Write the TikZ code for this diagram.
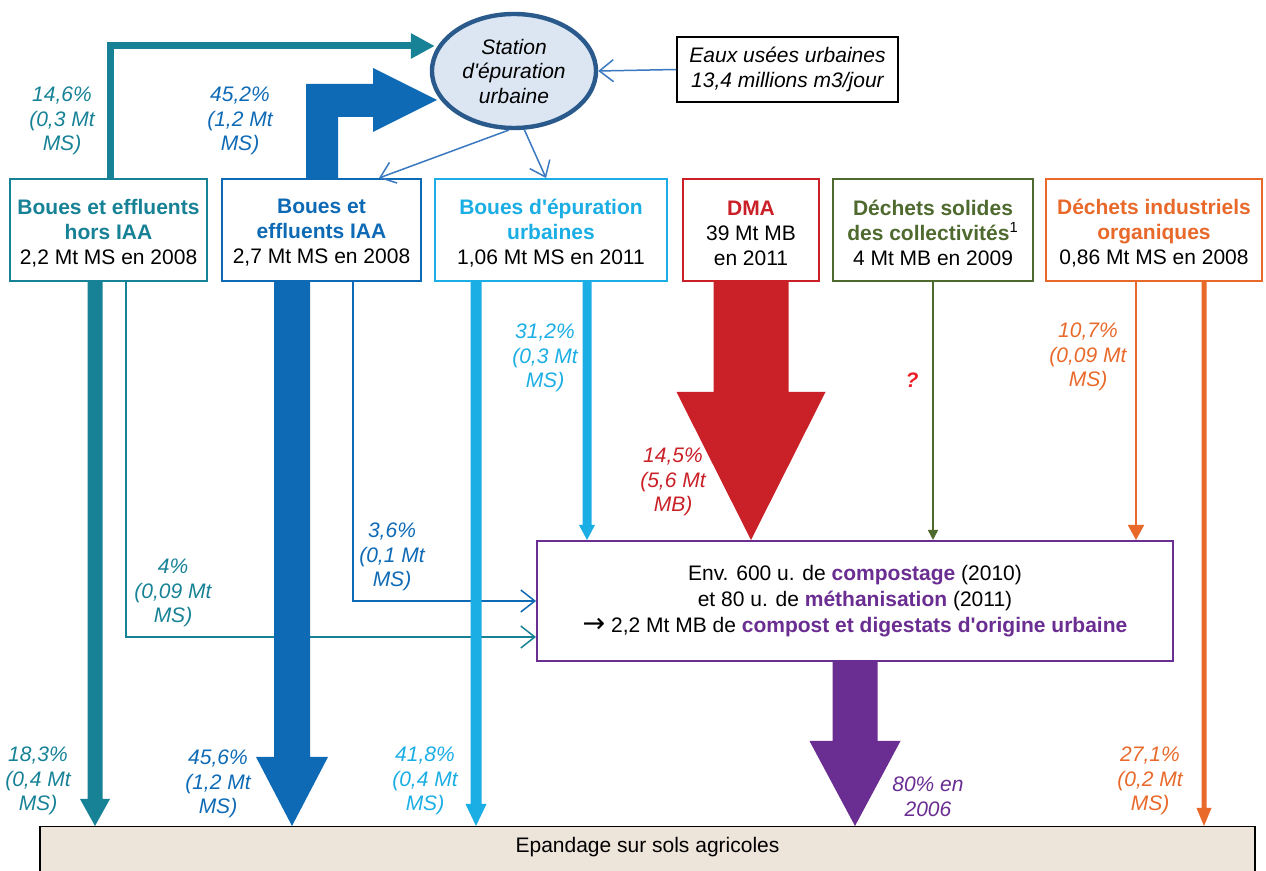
\documentclass[tikz,border=0pt]{standalone}
\usepackage{fontspec}
\setmainfont{Liberation Sans}
\newfontfamily\arrowfont{DejaVu Sans}
\usetikzlibrary{arrows.meta,shapes.geometric,calc}

\definecolor{cTeal}{HTML}{178296}
\definecolor{cBlue}{HTML}{0E6AB5}
\definecolor{cSky}{HTML}{1BAEE4}
\definecolor{cRed}{HTML}{CA2028}
\definecolor{cGreen}{HTML}{4F6A2F}
\definecolor{cOrange}{HTML}{E8692A}
\definecolor{cPurple}{HTML}{6A2D91}
\definecolor{cLink}{HTML}{3A78C0}
\definecolor{cRing}{HTML}{2A5A8C}
\definecolor{cRingFill}{HTML}{DCE6F2}
\definecolor{cSoil}{HTML}{EDE4DA}
\definecolor{cQuery}{HTML}{EC1C24}

% downward block arrow: colour, axis x, bar half width, head half width,
% head length, start node anchor, tip node anchor
\newcommand\blockdown[7]{%
  \fill[#1] (#2-#3,0 |- #6) -- ($(#2-#3,0 |- #7)+(0,-#5)$)
    -- ($(#2-#4,0 |- #7)+(0,-#5)$) -- (#2,0 |- #7)
    -- ($(#2+#4,0 |- #7)+(0,-#5)$) -- ($(#2+#3,0 |- #7)+(0,-#5)$)
    -- (#2+#3,0 |- #6) -- cycle;}

\tikzset{
  every node/.style={font=\fontsize{10.5}{12.5}\selectfont},
  src/.style={draw=#1, line width=1pt, fill=white, align=center,
    inner sep=0pt, minimum height=51pt},
  srctext/.style={align=center, inner sep=0pt},
  pct/.style={text=#1, align=center, inner sep=0pt,
    font=\fontsize{10.5}{12.25}\selectfont\itshape},
  barb/.style={-{Straight Barb[length=7pt,width=11pt]}, line width=0.75pt},
}

\begin{document}
\begin{tikzpicture}[x=0.5pt,y=-0.5pt,line join=miter]
\useasboundingbox (0,0) rectangle (1266,871);
\clip (0,0) rectangle (1266,871);

% sources (frames, then their texts)
\node[src=cTeal, minimum width=98.5pt] (b1) at (108.5,230) {};
\node[src=cBlue, minimum width=99.5pt] (b2) at (321.5,230) {};
\node[src=cSky, minimum width=116pt] (b3) at (551,230) {};
\node[src=cRed, minimum width=68pt] (b4) at (751,230) {};
\node[src=cGreen, minimum width=100pt] (b5) at (933,230) {};
\node[src=cOrange, minimum width=108pt] (b6) at (1154,230) {};

\node[srctext] (t1) at (108.5,233)
  {\textcolor{cTeal}{\bfseries Boues et effluents}\\
   \textcolor{cTeal}{\bfseries hors IAA}\\2,2 Mt MS en 2008};
\node[srctext] (t2) at (321.5,233)
  {\textcolor{cBlue}{\bfseries Boues et}\\
   \textcolor{cBlue}{\bfseries effluents IAA}\\2,7 Mt MS en 2008};
\node[srctext] (t3) at (551,233)
  {\textcolor{cSky}{\bfseries Boues d\textquotesingle épuration}\\
   \textcolor{cSky}{\bfseries urbaines}\\1,06 Mt MS en 2011};
\node[srctext] (t4) at (751,233)
  {\textcolor{cRed}{\bfseries DMA}\\39 Mt MB\\en 2011};
\node[srctext] (t5) at (933,233)
  {\textcolor{cGreen}{\bfseries Déchets solides}\\
   \textcolor{cGreen}{\bfseries des collectivités}\textsuperscript{1}\\4 Mt MB en 2009};
\node[srctext] (t6) at (1154,233)
  {\textcolor{cOrange}{\bfseries Déchets industriels}\\
   \textcolor{cOrange}{\bfseries organiques}\\0,86 Mt MS en 2008};

% treatment plant and inflow
\node[ellipse, draw=cRing, line width=2.2pt, fill=cRingFill, minimum width=82pt,
  minimum height=57pt, inner sep=0pt, align=center,
  font=\fontsize{10.5}{12.25}\selectfont\itshape] (el) at (514,71)
  {Station\\d\textquotesingle épuration\\urbaine};
\node[draw, line width=0.75pt, minimum width=110.5pt, minimum height=32.5pt,
  inner sep=0pt, align=center, font=\fontsize{10.5}{12.5}\selectfont\itshape]
  (eaux) at (787.5,69.5) {Eaux usées urbaines\\13,4 millions m3/jour};

% composting / methanisation units
\node[draw=cPurple, line width=1pt, fill=white, minimum width=318pt,
  minimum height=60pt, inner sep=0pt, align=center,
  font=\fontsize{10.5}{13}\selectfont] (pb) at (855,601)
  {Env. 600 u. de \textcolor{cPurple}{\bfseries compostage} (2010)\\
   et 80 u. de \textcolor{cPurple}{\bfseries méthanisation} (2011)\\
   {\arrowfont\fontsize{13.5}{13}\selectfont →} 2,2 Mt MB de \textcolor{cPurple}{\bfseries compost et digestats d\textquotesingle origine urbaine}};

% agricultural land
\node[draw, line width=0.75pt, fill=cSoil, minimum width=607.5pt,
  minimum height=40pt, inner sep=0pt, anchor=north] (ep) at (647.5,826) {};
\node (eptext) at (647.5,847) {Epandage sur sols agricoles};

% flows towards the treatment plant
\draw[cTeal, line width=3.5pt, -{Triangle[length=12pt,width=12pt]}]
  (110,0 |- b1.north) |- ($(el.west)+(5,-25)$);
\fill[cBlue] (306,0 |- b2.north) -- (306,84) -- (373,84) -- (373,68)
  -- (437,100) -- (373,132) -- (373,117) -- (338,117)
  -- (338,0 |- b2.north) -- cycle;
\draw[cLink, barb] (eaux.west) -- (el.east);
\draw[cLink, barb] (el.265) -- ($(b2.north east)+(-43,0)$);
\draw[cLink, barb] (el.280) -- ($(b3.north west)+(112,0)$);

% flows to composting
\draw[cTeal, barb] (126,0 |- b1.south) |- ($(pb.south west)+(0,-25)$);
\draw[cBlue, barb] (353,0 |- b2.south) |- (pb.west);
\blockdown{cSky}{587}{4.5}{8}{15}{b3.south}{pb.north}
\blockdown{cRed}{751}{37.5}{74.5}{148}{b4.south}{pb.north}
\draw[cGreen, line width=0.75pt, -{Triangle[length=5pt,width=5pt]}]
  (933,0 |- b5.south) -- (933,0 |- pb.north);
\draw[cOrange, line width=0.9pt, -{Triangle[length=7.5pt,width=8pt]}]
  (1136,0 |- b6.south) -- (1136,0 |- pb.north);

% flows to land spreading
\blockdown{cTeal}{95}{7.5}{15}{27}{b1.south}{ep.north}
\blockdown{cBlue}{292}{18}{36}{69}{b2.south}{ep.north}
\blockdown{cSky}{476}{5.5}{10.5}{22}{b3.south}{ep.north}
\blockdown{cPurple}{855}{22.5}{45.5}{85}{pb.south}{ep.north}
\blockdown{cOrange}{1204}{2.5}{7.5}{18}{b6.south}{ep.north}

% shares
\node[pct=cTeal] (l146) at (62,121) {14,6\%\\(0,3 Mt\\MS)};
\node[pct=cBlue] (l452) at (240,121) {45,2\%\\(1,2 Mt\\MS)};
\node[pct=cSky] (l312) at (545,358) {31,2\%\\(0,3 Mt\\MS)};
\node[pct=cRed] (l145) at (673,482) {14,5\%\\(5,6 Mt\\MB)};
\node[pct=cQuery, font=\fontsize{10.5}{12.25}\selectfont\bfseries\itshape] (lq) at (912,380) {?};
\node[pct=cOrange] (l107) at (1088,357) {10,7\%\\(0,09 Mt\\MS)};
\node[pct=cBlue] (l36) at (392,557) {3,6\%\\(0,1 Mt\\MS)};
\node[pct=cTeal] (l4) at (173,593) {4\%\\(0,09 Mt\\MS)};
\node[pct=cTeal] (l183) at (38,781) {18,3\%\\(0,4 Mt\\MS)};
\node[pct=cBlue] (l456) at (218,784) {45,6\%\\(1,2 Mt\\MS)};
\node[pct=cSky] (l418) at (425,781) {41,8\%\\(0,4 Mt\\MS)};
\node[pct=cPurple] (l80) at (928,797) {80\% en\\2006};
\node[pct=cOrange] (l271) at (1150,781) {27,1\%\\(0,2 Mt\\MS)};
\end{tikzpicture}
\end{document}
